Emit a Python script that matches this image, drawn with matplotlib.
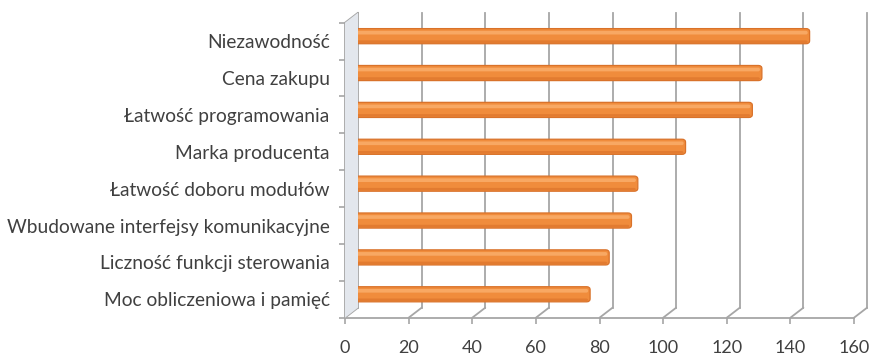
import matplotlib
matplotlib.use("Agg")
import matplotlib.pyplot as plt
from matplotlib.patches import FancyBboxPatch, Polygon, ConnectionPatch
from matplotlib.transforms import ScaledTranslation

categories = [
    "Niezawodność",
    "Cena zakupu",
    "Łatwość programowania",
    "Marka producenta",
    "Łatwość doboru modułów",
    "Wbudowane interfejsy komunikacyjne",
    "Liczność funkcji sterowania",
    "Moc obliczeniowa i pamięć",
]
values = [144, 129, 126, 105, 90, 88, 81, 75]
x_ticks = [0, 20, 40, 60, 80, 100, 120, 140, 160]

GRID = "#a6a6a6"
TEXT = "#404040"
DEPTH = (0.13, 0.10)   # oblique depth offset in inches (dpi 100)

plt.rcParams["font.family"] = ["Lato", "DejaVu Sans"]

fig = plt.figure(figsize=(8.71, 3.59), dpi=100)
ax = fig.add_axes([0.3961, 0.1150, 0.5844, 0.8217])
ax.set_xlim(0, 160)
ax.set_ylim(len(categories) - 0.5, -0.5)

back = ax.transData + ScaledTranslation(DEPTH[0], DEPTH[1], fig.dpi_scale_trans)
mid = ax.transData + ScaledTranslation(DEPTH[0] / 2, DEPTH[1] / 2, fig.dpi_scale_trans)

y_top, y_bot = -0.5, len(categories) - 0.5

# left side wall, built in display space from the front and back planes
fig.canvas.draw()
p_front = ax.transData.transform([(0, y_top), (0, y_bot)])
p_back = back.transform([(0, y_bot), (0, y_top)])
wall_pts = fig.transFigure.inverted().transform(list(p_front) + list(p_back))
fig.patches.append(Polygon(wall_pts, closed=True, transform=fig.transFigure,
                           facecolor="#e3e7ed", edgecolor="none", zorder=0))

# back wall gridlines and floor lines
for v in x_ticks:
    ax.plot([v, v], [y_bot, y_top], transform=back, color=GRID, lw=1.3,
            clip_on=False, zorder=1)
    ax.add_artist(ConnectionPatch(xyA=(v, y_bot), coordsA=ax.transData,
                                  xyB=(v, y_bot), coordsB=back,
                                  color=GRID, lw=1.3, zorder=1))
ax.add_artist(ConnectionPatch(xyA=(0, y_top), coordsA=ax.transData,
                              xyB=(0, y_top), coordsB=back,
                              color=GRID, lw=1.3, zorder=1))

# cylinder-like bars
h = 0.41
for i, v in enumerate(values):
    ax.add_patch(FancyBboxPatch((0, i - h / 2), v, h,
                                boxstyle="round,pad=0,rounding_size=1.1",
                                mutation_aspect=0.075, transform=mid,
                                facecolor="#f08c3c", edgecolor="#d9722a", lw=0.9,
                                clip_on=False, zorder=3))
    ax.add_patch(FancyBboxPatch((0.3, i - h / 2 + 0.06), v - 0.9, 0.1,
                                boxstyle="round,pad=0,rounding_size=0.6",
                                mutation_aspect=0.075, transform=mid,
                                facecolor="#f8a863", edgecolor="none",
                                clip_on=False, zorder=4))
    ax.add_patch(FancyBboxPatch((0.3, i + h / 2 - 0.09), v - 0.9, 0.07,
                                boxstyle="round,pad=0,rounding_size=0.6",
                                mutation_aspect=0.075, transform=mid,
                                facecolor="#e27b30", edgecolor="none",
                                clip_on=False, zorder=4))

for s in ["top", "right"]:
    ax.spines[s].set_visible(False)
for s in ["left", "bottom"]:
    ax.spines[s].set_color(GRID)
    ax.spines[s].set_linewidth(1.3)
ax.patch.set_visible(False)

ax.set_xticks(x_ticks)
ax.set_xticklabels([str(t) for t in x_ticks])
ax.tick_params(axis="x", length=4, width=1.2, color=GRID, pad=12,
               labelsize=13, labelcolor=TEXT)

ax.set_yticks(range(len(categories)))
ax.set_yticklabels(categories)
ax.set_yticks([i - 0.5 for i in range(len(categories) + 1)], minor=True)
ax.tick_params(axis="y", which="major", length=0, pad=11,
               labelsize=13.8, labelcolor=TEXT)
ax.tick_params(axis="y", which="minor", length=4, width=1.2, color=GRID)

fig.savefig("out.png", dpi=100)
